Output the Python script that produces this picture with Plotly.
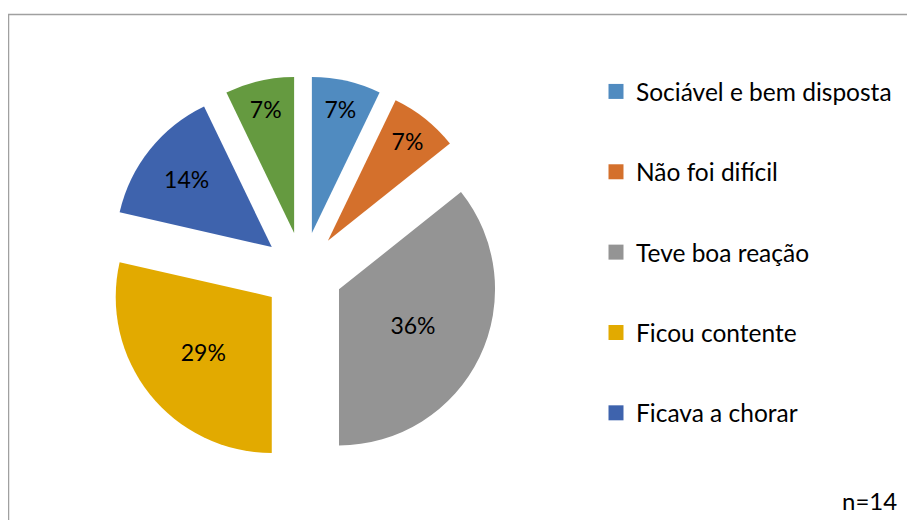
import plotly.graph_objects as go

# Respostas (n=14)
labels = ["Sociável e bem disposta", "Não foi difícil", "Teve boa reação",
          "Ficou contente", "Ficava a chorar", "Outro"]
values = [1, 1, 5, 4, 2, 1]
colors = ["#508BC0", "#D4702C", "#949494", "#E2AA00", "#3E63AD", "#659A40"]
# só as primeiras cinco aparecem na legenda
legend_labels = labels[:5]

fonte = "Lato, Calibri, sans-serif"

# a página tem 8px de margem no body: coordenadas em px já descontadas
W, H = 915, 520


def px(x):
    return (x - 8) / W


def py(y):
    return 1 - (y - 8) / H


fig = go.Figure()

fig.add_trace(go.Pie(
    labels=labels,
    values=values,
    sort=False,
    direction="clockwise",
    rotation=0,
    pull=[0.256] * len(values),
    marker=dict(colors=colors, line=dict(width=0)),
    texttemplate="%{percent:.0%}",
    textposition="inside",
    insidetextorientation="horizontal",
    textfont=dict(color="black", size=23, family=fonte),
    hoverinfo="label+value+percent",
    showlegend=False,
    domain=dict(x=[px(107), px(499)], y=[py(468), py(76)]),
))

# entradas da legenda (quadrados de cor)
for i, lab in enumerate(legend_labels):
    fig.add_trace(go.Scatter(
        x=[None], y=[None],
        mode="markers",
        name=lab,
        legendgroup=lab,
        marker=dict(symbol="square", size=15, color=colors[i]),
    ))

fig.update_layout(
    width=W,
    height=H,
    margin=dict(l=0, r=0, t=0, b=0),
    paper_bgcolor="white",
    plot_bgcolor="white",
    font=dict(family=fonte, size=24, color="black"),
    xaxis=dict(visible=False),
    yaxis=dict(visible=False),
    legend=dict(
        x=px(596),
        y=py(69),
        xanchor="left",
        yanchor="top",
        tracegroupgap=45.5,
        font=dict(size=24.5, family=fonte, color="black"),
        bgcolor="rgba(0,0,0,0)",
    ),
    shapes=[dict(
        type="rect", xref="paper", yref="paper",
        x0=px(8.5), x1=1.05, y0=-0.05, y1=py(14.5),
        line=dict(color="#A0A0A0", width=1.5),
    )],
    annotations=[dict(
        text="n=14", xref="paper", yref="paper",
        x=px(899), y=py(500), xanchor="right", yanchor="middle",
        showarrow=False, font=dict(size=24, family=fonte, color="black"),
    )],
)

fig.write_html("out.html")
